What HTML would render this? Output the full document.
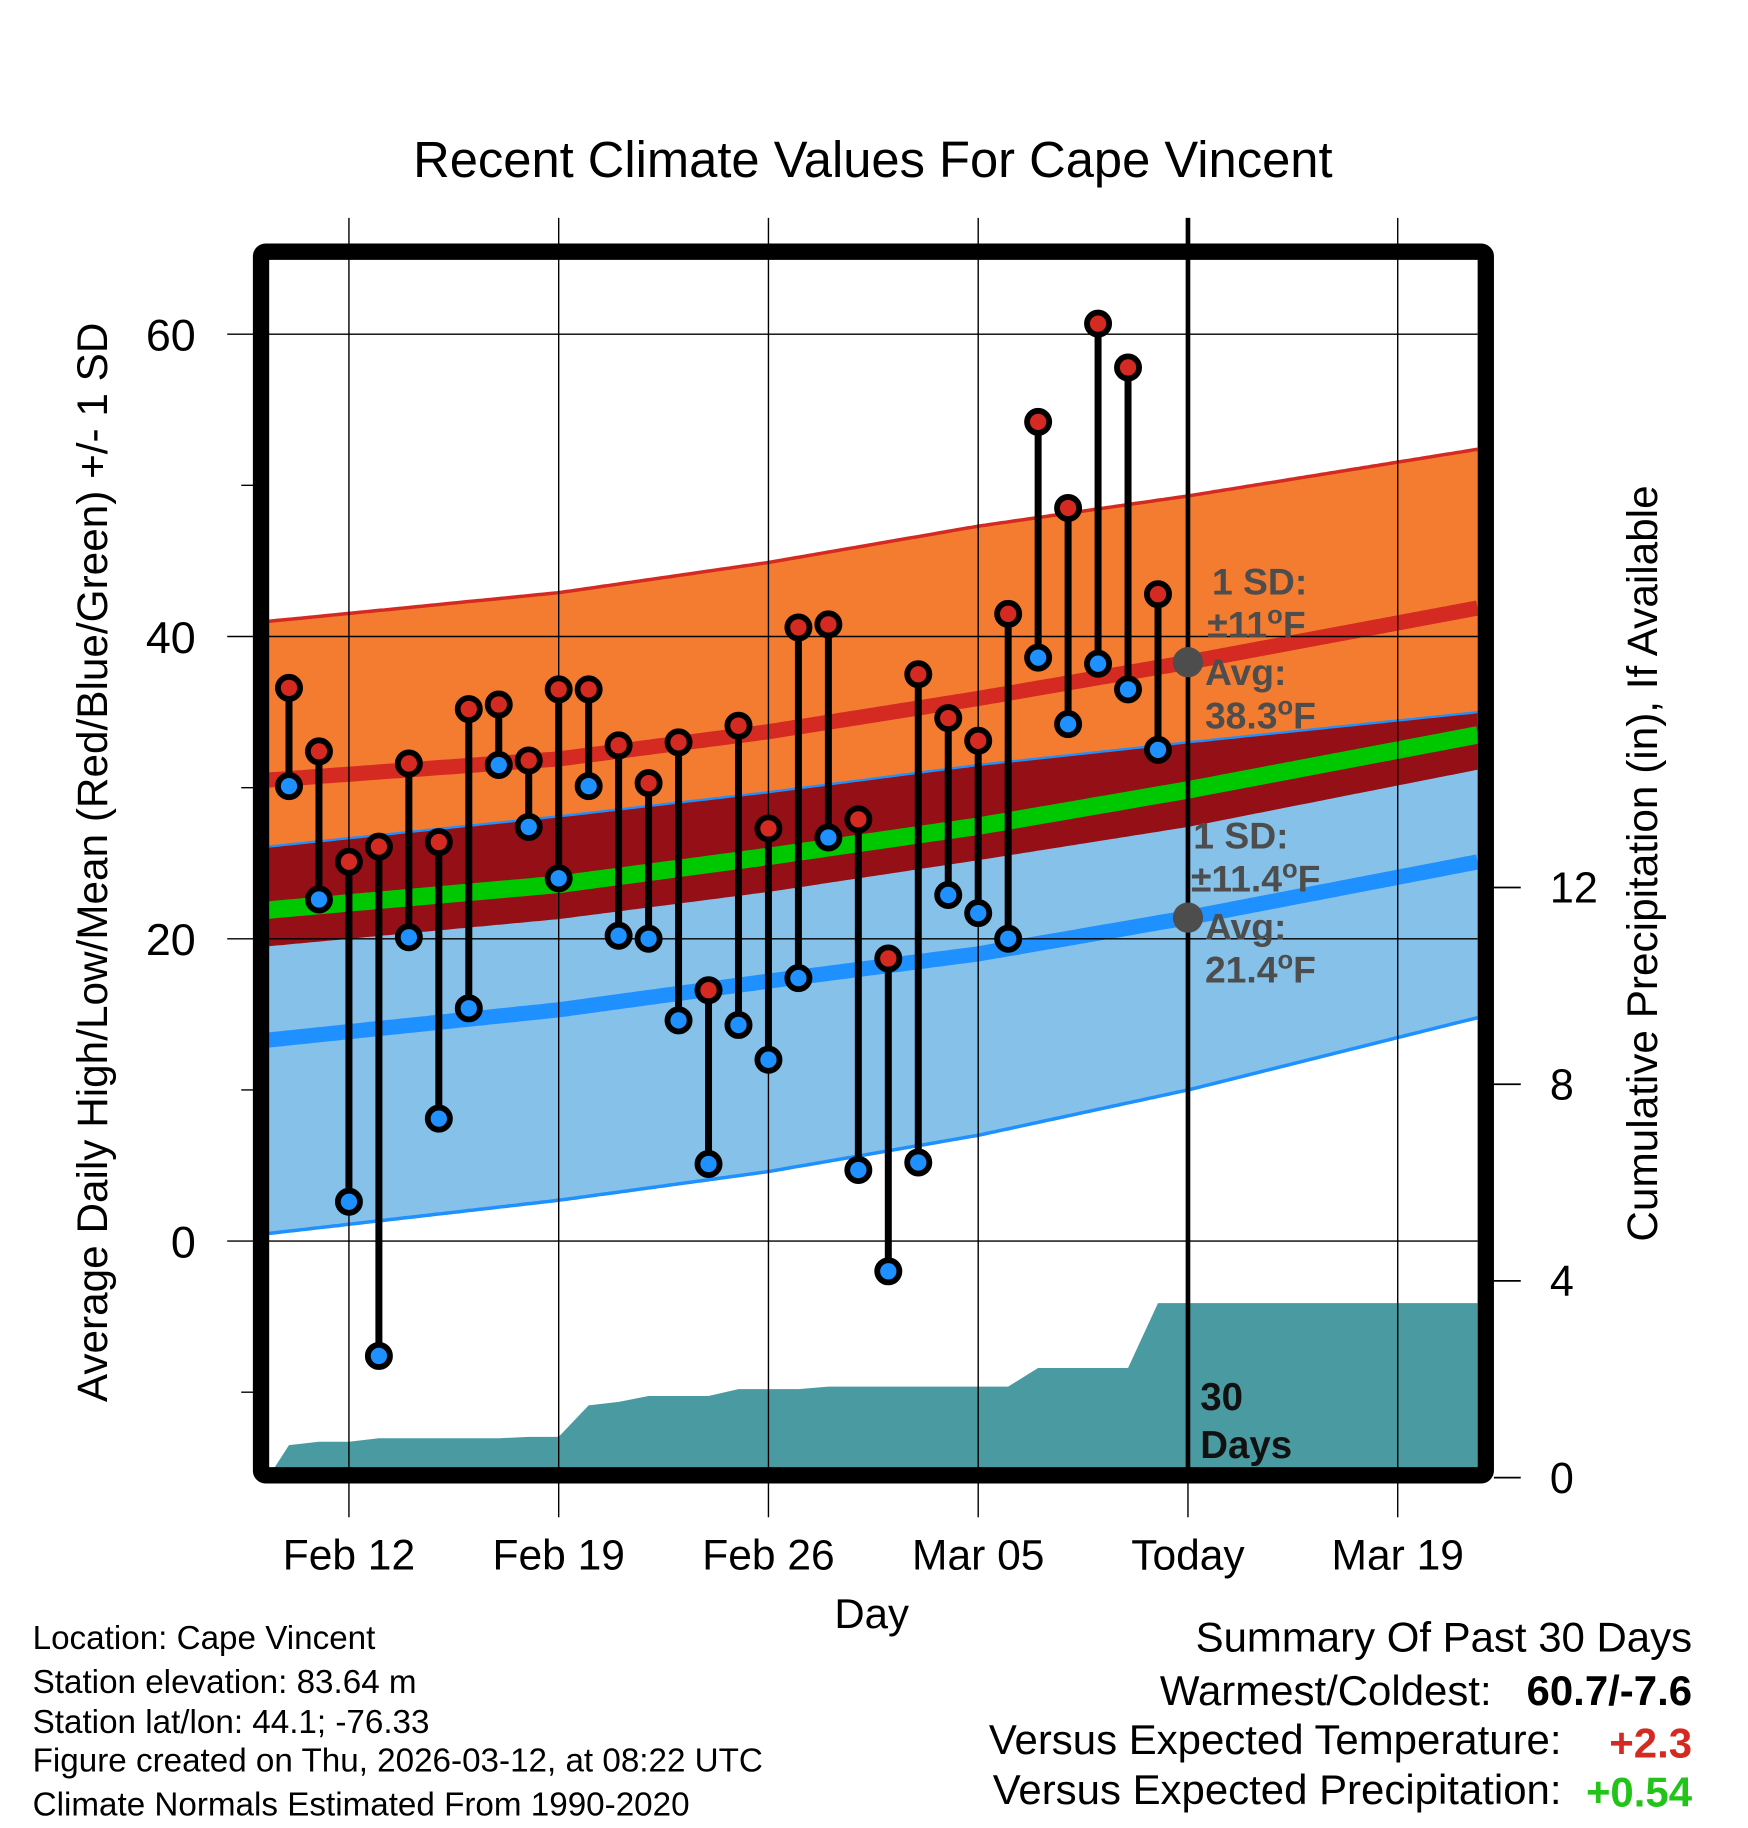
<!DOCTYPE html>
<html><head><meta charset="utf-8"><style>
html,body{margin:0;padding:0;background:#fff;}
svg{display:block;font-family:"Liberation Sans",Arial,sans-serif;}
</style></head><body>
<svg id="chart" width="1748" height="1828" viewBox="0 0 1500 1568.65" xmlns="http://www.w3.org/2000/svg">
<rect x="0" y="0" width="1500" height="1568.65" fill="#fff"/>
<text x="749" y="152" font-size="43.5" text-anchor="middle">Recent Climate Values For Cape Vincent</text>
<g id="plot"></g>
<text transform="translate(92,740) rotate(-90)" font-size="36.3" text-anchor="middle">Average Daily High/Low/Mean (Red/Blue/Green) +/- 1 SD</text>
<text transform="translate(1422,741) rotate(-90)" font-size="36.3" text-anchor="middle">Cumulative Precipitation (in), If Available</text>
<text x="748" y="1397" font-size="36" text-anchor="middle">Day</text>
<g font-size="28.5">
<text x="28" y="1415">Location: Cape Vincent</text>
<text x="28" y="1453">Station elevation: 83.64 m</text>
<text x="28" y="1487">Station lat/lon: 44.1; -76.33</text>
<text x="28" y="1520">Figure created on Thu, 2026-03-12, at 08:22 UTC</text>
<text x="28" y="1558">Climate Normals Estimated From 1990-2020</text>
</g>
<g font-size="36" text-anchor="end">
<text x="1452" y="1417">Summary Of Past 30 Days</text>
<text x="1280" y="1463">Warmest/Coldest:</text>
<text x="1452" y="1463" font-weight="bold">60.7/-7.6</text>
<text x="1340" y="1505">Versus Expected Temperature:</text>
<text x="1452" y="1508" font-weight="bold" fill="#d42a22">+2.3</text>
<text x="1340" y="1548">Versus Expected Precipitation:</text>
<text x="1452" y="1550" font-weight="bold" fill="#22c41a">+0.54</text>
</g>
</svg>
<script>
// ---- data ----
const dayLabels = ["Feb 10","Feb 11","Feb 12","Feb 13","Feb 14","Feb 15","Feb 16","Feb 17","Feb 18","Feb 19","Feb 20","Feb 21","Feb 22","Feb 23","Feb 24","Feb 25","Feb 26","Feb 27","Feb 28","Mar 01","Mar 02","Mar 03","Mar 04","Mar 05","Mar 06","Mar 07","Mar 08","Mar 09","Mar 10","Mar 11"];
const highs = [36.6,32.4,25.1,26.1,31.6,26.4,35.2,35.5,31.8,36.5,36.5,32.8,30.3,33.0,16.6,34.1,27.3,40.6,40.8,27.9,18.7,37.5,34.6,33.1,41.5,54.2,48.5,60.7,57.8,42.8];
const lows = [30.1,22.6,2.6,-7.6,20.1,8.1,15.4,31.5,27.4,24.0,30.1,20.2,20.0,14.6,5.1,14.3,12.0,17.4,26.7,4.7,-2.0,5.2,22.9,21.7,20.0,38.6,34.2,38.2,36.5,32.5];
const precipCum = [0.66,0.73,0.73,0.80,0.80,0.80,0.80,0.80,0.83,0.83,1.47,1.54,1.66,1.66,1.66,1.80,1.80,1.80,1.85,1.85,1.85,1.85,1.85,1.85,1.85,2.23,2.23,2.23,2.23,3.55];
const normDays = [-0.7,9,16,23,30,39.7];
const normHighMean = [30.5,31.9,33.7,35.9,38.3,41.9];
const normHighUpper = [41.0,42.9,44.9,47.3,49.3,52.4];
const normHighLower = [19.5,21.3,23.1,25.2,27.4,31.2];
const normLowMean = [13.3,15.3,17.2,19.0,21.4,25.1];
const normLowUpper = [26.1,28.1,29.7,31.5,33.0,35.0];
const normLowLower = [0.5,2.7,4.6,7.0,10.0,14.8];
const xTickDays = [2,9,16,23,30,37];
const xTickLabels = ["Feb 12","Feb 19","Feb 26","Mar 05","Today","Mar 19"];
const yTicks = [0,20,40,60];
const yMinor = [-10,10,30,50];
const pTicks = [0,4,8,12];

// ---- scales ----
const X0=248, DX=25.714;
const xs = d => X0 + d*DX;
const ys = v => 1065 - v*12.97;
const yp = p => 1268 - p*42.2;
const L=230,R=1268,T=222,B=1260;
const NS="http://www.w3.org/2000/svg";
const plot=document.getElementById('plot');
function mk(tag,attrs,parent){const e=document.createElementNS(NS,tag);for(const k in attrs)e.setAttribute(k,attrs[k]);(parent||plot).appendChild(e);return e;}
function curve(days,vals){const pts=[];for(let x=L;x<=R;x+=4){const d=(x-X0)/DX;let i=0;while(i<days.length-2&&d>days[i+1])i++;const t=(d-days[i])/(days[i+1]-days[i]);pts.push([x,ys(vals[i]+t*(vals[i+1]-vals[i]))]);}
 const d=(R-X0)/DX;const n=days.length;pts.push([R,ys(vals[n-2]+(d-days[n-2])/(days[n-1]-days[n-2])*(vals[n-1]-vals[n-2]))]);return pts;}
const ps=p=>p.map(q=>q[0].toFixed(1)+','+q[1].toFixed(1)).join(' ');

const defs=mk('defs',{});const cp=mk('clipPath',{id:'clip'},defs);mk('rect',{x:L,y:T,width:R-L,height:B-T},cp);
const g=mk('g',{'clip-path':'url(#clip)'});


{
 const mk2=(tag,attrs)=>mk(tag,attrs,g);
 const a1=curve(normDays,normHighUpper),b1=curve(normDays,normHighLower).reverse();
 let e=mk2('polygon',{points:ps(a1.concat(b1)),fill:'#f47c30'});
 
 
 const a2=curve(normDays,normLowUpper),b2=curve(normDays,normLowLower).reverse();
 e=mk2('polygon',{points:ps(a2.concat(b2)),fill:'#85c1e9'});
 
 
 const a3=curve(normDays,normLowUpper),b3=curve(normDays,normHighLower).reverse();
 e=mk2('polygon',{points:ps(a3.concat(b3)),fill:'#951016'});
 
 
 e=mk2('polyline',{points:ps(curve(normDays,normHighUpper)),fill:'none',stroke:'#d42a22','stroke-width':3});
 
 
 e=mk2('polyline',{points:ps(curve(normDays,normLowUpper)),fill:'none',stroke:'#1e90ff','stroke-width':2});
 
 
 e=mk2('polyline',{points:ps(curve(normDays,normLowLower)),fill:'none',stroke:'#1e90ff','stroke-width':3});
 
 
 const meanV=normHighMean.map((v,i)=>(v+normLowMean[i])/2);
 e=mk2('polyline',{points:ps(curve(normDays,meanV)),fill:'none',stroke:'#00c800','stroke-width':15});
 
 
 e=mk2('polyline',{points:ps(curve(normDays,normHighMean)),fill:'none',stroke:'#d42a22','stroke-width':13});
 
 
 e=mk2('polyline',{points:ps(curve(normDays,normLowMean)),fill:'none',stroke:'#1e90ff','stroke-width':13});
 
 
 const pp=[[L,yp(0)]];
 precipCum.forEach((p,i)=>pp.push([xs(i),yp(p)]));
 pp.push([R,yp(precipCum[precipCum.length-1])]);pp.push([R,yp(0)]);
 e=mk2('polygon',{points:ps(pp),fill:'#4a9aa2'});
 
 
}
xTickDays.forEach((d,i)=>{const e=mk('line',{x1:xs(d),x2:xs(d),y1:187,y2:1302,stroke:'#000','stroke-width':1.2});
 
 
 const t=mk('text',{x:xs(d),y:1347,'font-size':36.5,'text-anchor':'middle'});t.textContent=xTickLabels[i];
 
 });
yTicks.forEach(v=>{const e=mk('line',{x1:195,x2:R,y1:ys(v),y2:ys(v),stroke:'#000','stroke-width':1.2});
 
 
 const t=mk('text',{x:168,y:ys(v)+14,'font-size':38.5,'text-anchor':'end'});t.textContent=v;
 
 });
yMinor.forEach(v=>{const e=mk('line',{x1:207,x2:L,y1:ys(v),y2:ys(v),stroke:'#000','stroke-width':1.2});
 
 });
pTicks.forEach(p=>{const e=mk('line',{x1:1282,x2:1305,y1:yp(p),y2:yp(p),stroke:'#000','stroke-width':1.5});
 
 
 const t=mk('text',{x:1330,y:yp(p)+13,'font-size':37});t.textContent=p;
 
 });
let tl=mk('line',{x1:xs(30),x2:xs(30),y1:187,y2:B,stroke:'#000','stroke-width':4});


function txt(x,y,s,deg,name){const t=mk('text',{x:x,y:y,'font-size':32,'font-weight':'bold',fill:'#4d4d4d'});t.textContent=s;
 if(deg){const o=mk('tspan',{dy:-12,'font-size':22},t);o.textContent='o';const f=mk('tspan',{dy:12},t);f.textContent='F';}
 
 }
let c=mk('circle',{cx:xs(30),cy:ys(38.3),r:13,fill:'#4d4d4d'});


c=mk('circle',{cx:xs(30),cy:ys(21.4),r:13,fill:'#4d4d4d'});


txt(1040,510,'1 SD:',false,'high-sd-label');txt(1036,547,'±11',true,'high-sd-value');
txt(1034,588,'Avg:',false,'high-avg-label');txt(1034,625,'38.3',true,'high-avg-value');
txt(1024,728,'1 SD:',false,'low-sd-label');txt(1022,765,'±11.4',true,'low-sd-value');
txt(1034,806,'Avg:',false,'low-avg-label');txt(1034,843,'21.4',true,'low-avg-value');
const d1=mk('text',{x:1030,y:1210,'font-size':33,'font-weight':'bold',fill:'#111'});d1.textContent='30';


const d2=mk('text',{x:1030,y:1251,'font-size':33,'font-weight':'bold',fill:'#111'});d2.textContent='Days';


highs.forEach((h,i)=>{const x=xs(i);
 const s=mk('line',{x1:x,x2:x,y1:ys(h),y2:ys(lows[i]),stroke:'#000','stroke-width':6});
 
 });
highs.forEach((h,i)=>{const x=xs(i);
 const a=mk('circle',{cx:x,cy:ys(h),r:9.5,fill:'#d42a22',stroke:'#000','stroke-width':5});
 
 
 const b=mk('circle',{cx:x,cy:ys(lows[i]),r:9.5,fill:'#1e90ff',stroke:'#000','stroke-width':5});
 
 });
const fr=mk('rect',{x:224,y:216,width:1051,height:1050,fill:'none',stroke:'#000','stroke-width':14,rx:4});


</script>
</body></html>
